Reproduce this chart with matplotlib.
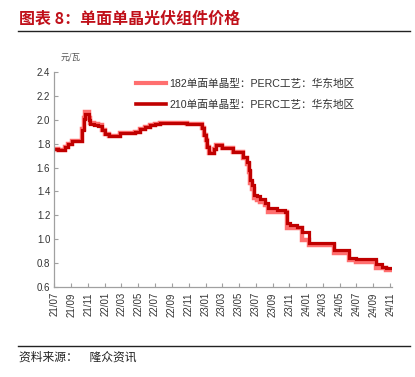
import matplotlib
matplotlib.use("Agg")
import matplotlib.pyplot as plt
import matplotlib.dates as mdates
import pandas as pd
from matplotlib.lines import Line2D

plt.rcParams['font.family'] = ['Liberation Sans', 'Noto Sans CJK SC', 'DejaVu Sans']

# 210 单面单晶 (dark) - change points, weekly data
dark_dates = ['2021-07-01', '2021-07-15', '2021-08-09', '2021-08-21', '2021-09-03',
              '2021-10-09', '2021-10-15', '2021-10-21', '2021-11-02', '2021-11-09',
              '2021-11-21', '2021-12-08', '2021-12-21', '2022-01-02', '2022-01-14',
              '2022-02-26', '2022-04-20', '2022-05-08', '2022-05-26', '2022-06-14',
              '2022-07-02', '2022-07-19', '2022-10-25', '2022-12-18', '2022-12-25',
              '2023-01-01', '2023-01-07', '2023-01-13', '2023-01-31', '2023-02-06',
              '2023-03-01', '2023-04-12', '2023-05-18', '2023-05-30', '2023-06-06',
              '2023-06-12', '2023-06-18', '2023-06-24', '2023-07-06', '2023-07-18',
              '2023-08-05', '2023-08-17', '2023-09-17', '2023-10-17', '2023-10-23',
              '2023-11-04', '2023-11-29', '2023-12-17', '2024-01-10', '2024-04-10',
              '2024-06-04', '2024-06-28', '2024-09-10', '2024-10-03', '2024-10-15',
              '2024-11-09']
dark_vals = [1.755, 1.745, 1.775, 1.795, 1.825,
             1.915, 2.01, 2.05, 2.00, 1.965,
             1.955, 1.948, 1.915, 1.88, 1.867,
             1.887, 1.90, 1.92, 1.943, 1.957,
             1.963, 1.976, 1.966, 1.93, 1.873,
             1.83, 1.775, 1.72, 1.753, 1.79,
             1.76, 1.733, 1.69, 1.65, 1.58,
             1.495, 1.453, 1.37, 1.36, 1.333,
             1.30, 1.257, 1.243, 1.229, 1.13,
             1.117, 1.103, 1.06, 0.963, 0.907,
             0.843, 0.83, 0.786, 0.766, 0.753,
             0.753]

# 182 单面单晶 (light)
light_dates = ['2021-07-01', '2021-07-15', '2021-08-09', '2021-08-21', '2021-09-03',
               '2021-10-09', '2021-10-15', '2021-10-21', '2021-11-02', '2021-11-09',
               '2021-11-21', '2021-12-08', '2021-12-21', '2022-01-02', '2022-01-14',
               '2022-02-26', '2022-04-20', '2022-05-08', '2022-05-26', '2022-06-14',
               '2022-07-02', '2022-07-19', '2022-10-25', '2022-12-18', '2022-12-25',
               '2023-01-01', '2023-01-07', '2023-01-13', '2023-01-31', '2023-02-06',
               '2023-03-01', '2023-04-12', '2023-05-18', '2023-05-30', '2023-06-06',
               '2023-06-12', '2023-06-18', '2023-06-24', '2023-07-06', '2023-07-18',
               '2023-08-05', '2023-08-17', '2023-10-23', '2023-12-17', '2024-01-10',
               '2024-04-10', '2024-06-04', '2024-06-28', '2024-09-10', '2024-10-15',
               '2024-11-09']
light_vals = [1.755, 1.745, 1.775, 1.795, 1.825,
              1.92, 2.02, 2.07, 2.02, 1.975,
              1.965, 1.955, 1.915, 1.88, 1.867,
              1.887, 1.90, 1.92, 1.943, 1.957,
              1.963, 1.976, 1.966, 1.93, 1.873,
              1.83, 1.775, 1.72, 1.753, 1.79,
              1.76, 1.733, 1.68, 1.63, 1.56,
              1.47, 1.42, 1.34, 1.33, 1.31,
              1.285, 1.23, 1.09, 0.99, 0.95,
              0.88, 0.823, 0.81, 0.76, 0.74,
              0.74]

yticks = [0.6, 0.8, 1.0, 1.2, 1.4, 1.6, 1.8, 2.0, 2.2, 2.4]

DARK = '#C00000'
LIGHT = '#FF6F6F'
AXC = '#A0A0A0'

fig = plt.figure(figsize=(4.15, 3.77), dpi=100)
ax = fig.add_axes([0.131, 0.2398, 0.814, 0.5684])

ax.plot(pd.to_datetime(light_dates), light_vals, drawstyle='steps-post',
        color=LIGHT, lw=3.2, solid_joinstyle='miter')
ax.plot(pd.to_datetime(dark_dates), dark_vals, drawstyle='steps-post',
        color=DARK, lw=2.3, solid_joinstyle='miter')

ax.set_ylim(0.6, 2.4)
ax.set_yticks(yticks)
ax.set_yticklabels([f'{v:.1f}' for v in yticks])
ax.set_xlim(pd.Timestamp('2021-07-01'), pd.Timestamp('2024-11-08'))
ax.xaxis.set_major_locator(mdates.MonthLocator(bymonth=[1, 3, 5, 7, 9, 11]))
ax.xaxis.set_major_formatter(mdates.DateFormatter('%y/%m'))

for s in ['top', 'right']:
    ax.spines[s].set_visible(False)
for s in ['left', 'bottom']:
    ax.spines[s].set_color(AXC)
    ax.spines[s].set_linewidth(0.9)
ax.tick_params(axis='both', direction='in', length=3, width=0.8, color=AXC,
               labelsize=7, labelcolor='#333333')
ax.tick_params(axis='x', rotation=90, pad=4)
ax.tick_params(axis='y', pad=3)

handles = [Line2D([], [], color=LIGHT, lw=3.0),
           Line2D([], [], color=DARK, lw=2.6)]
labels = ['182单面单晶型：PERC工艺：华东地区', '210单面单晶型：PERC工艺：华东地区']
leg = ax.legend(handles, labels, loc='upper left', bbox_to_anchor=(0.225, 1.0),
                frameon=False, fontsize=7.7, handlelength=2.8, handletextpad=0.3,
                labelspacing=1.05, borderaxespad=0.15)
for t in leg.get_texts():
    t.set_color('#333333')
    t.set_family(['Liberation Sans', 'Noto Sans CJK SC'])

fig.text(0.146, 0.848, '元/瓦', fontsize=6, color='#555555',
         family=['Noto Sans CJK SC'], va='center')

fig.text(0.046, 0.950, '图表 8：单面单晶光伏组件价格', fontsize=11.5, color='#C0101A',
         fontweight='bold', family=['Noto Sans CJK SC', 'DejaVu Sans'], va='center')
fig.add_artist(Line2D([0.043, 0.988], [0.918, 0.918], color='#222222', lw=1.0))
fig.add_artist(Line2D([0.043, 0.988], [0.082, 0.082], color='#222222', lw=1.0))
fig.text(0.046, 0.052, '资料来源：\u3000隆众资讯', fontsize=8.5, color='#222222',
         family=['Noto Sans CJK SC'], va='center')

fig.savefig('out.png', dpi=100)
